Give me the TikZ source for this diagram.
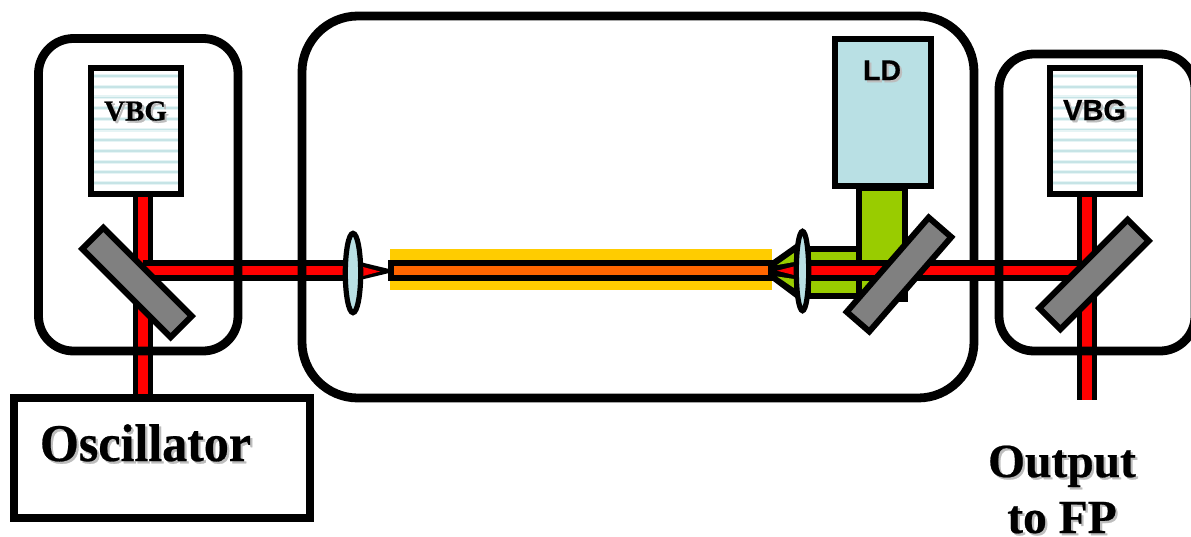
\documentclass[tikz,border=0pt]{standalone}
\usepackage{fontspec}
\setmainfont{Liberation Serif}[BoldFeatures={FakeBold=0.5}]
\newfontfamily\arialfont{Liberation Sans}[BoldFeatures={FakeBold=0.5}]
\definecolor{beamred}{HTML}{FF0000}
\definecolor{pumpgreen}{HTML}{99CC00}
\definecolor{mirrorgray}{HTML}{808080}
\definecolor{glassblue}{HTML}{B9E0E4}
\definecolor{fiberyellow}{HTML}{FFCC00}
\definecolor{coreorange}{HTML}{FF6600}
\definecolor{stripesoft}{HTML}{E6F4F5}
\definecolor{stripe}{HTML}{C6E4E6}
\definecolor{shadowgray}{HTML}{BDBDBD}
\newcommand{\shad}[1]{\leavevmode\rlap{\kern2.2pt\raisebox{-2.2pt}{\textcolor{shadowgray}{#1}}}#1}
\newcommand{\beamseg}[2]{%
  \draw[black,line width=20.5pt] #1 -- #2;
  \draw[beamred,line width=9.8pt] #1 -- #2;}
\newcommand{\vbgbox}[3]{%
  \fill[white] (#2,68) rectangle (#3,194);
  \foreach \yy in {76,86.7,97.4,108.1,118.8,129.5,140.2,150.9,161.6,172.3,183} {
    \draw[stripesoft,line width=4pt] (#2,\yy) -- (#3,\yy);
    \draw[stripe,line width=1.8pt] (#2,\yy) -- (#3,\yy);
  }
  \draw[outline5] (#2,68) rectangle (#3,194);
  \coordinate (#1) at (#2,68);}
\tikzset{
  outline5/.style={draw=black,line width=6pt,line join=miter},
  housing/.style={draw=black,line width=8.8pt},
  mirrorplate/.style={draw=black,fill=mirrorgray,line width=6pt,line join=miter},
  lensbody/.style={draw=black,fill=glassblue,line width=5.2pt},
  serifbold/.style={font=\fontsize{#1}{#1}\selectfont\bfseries,inner sep=0pt,anchor=base},
  sansbold/.style={font=\fontsize{#1}{#1}\selectfont\arialfont\bfseries,inner sep=0pt,anchor=base},
}
\begin{document}
\begin{tikzpicture}[x=1pt,y=-1pt]
\useasboundingbox (0,0) rectangle (1191,536);
\fill[white] (0,0) rectangle (1191,536);

% fibre jacket
\fill[fiberyellow] (390,249) rectangle (771.5,289.5);

% left-hand beams, beneath the housings
\beamseg{(143,197)}{(143,396)}
\beamseg{(143,270.5)}{(345,270.5)}
\beamseg{(1087,197)}{(1087,400)}

% big housing
\draw[housing,rounded corners=56pt] (302,16) rectangle (974,398);

% pump light
\draw[outline5,fill=pumpgreen] (808,248.7) rectangle (859,295.7);
\draw[outline5,fill=pumpgreen] (858.7,188) rectangle (904.5,299);
\beamseg{(808,270.5)}{(1080,270.5)}

% small housings
\draw[housing,rounded corners=35pt] (38.5,38.5) rectangle (238,351);
\draw[housing,rounded corners=35pt] (999,54) rectangle (1195,351);

% fibre core
\draw[line width=6pt,fill=coreorange] (391,263) rectangle (771,278.3);

% focusing cones
\fill[black] (360,262) -- (389,269) -- (389,273) -- (360,280) -- cycle;
\fill[beamred] (363,267) -- (380,271.5) -- (363,276) -- cycle;
\fill[black] (773,260) -- (797,243) -- (797,299) -- (773,281) -- cycle;
\fill[pumpgreen] (777,265) -- (794,253) -- (794,262) -- cycle;
\fill[beamred] (777,270.7) -- (794,266.5) -- (794,275) -- cycle;
\fill[pumpgreen] (777,276.5) -- (794,279) -- (794,288) -- cycle;

% lenses
\draw[lensbody] (353,273) ellipse [x radius=7.7,y radius=39.7];
\draw[lensbody] (802.5,271) ellipse [x radius=6.2,y radius=39.7];

% mirrors
\draw[mirrorplate] (191.8,316.1) -- (170.6,337.3) -- (82.2,248.9) -- (103.4,227.7) -- cycle;
\draw[mirrorplate] (951.3,237.1) -- (928.7,217.5) -- (846.7,311.9) -- (869.3,331.5) -- cycle;
\draw[mirrorplate] (1148.8,240.9) -- (1127.6,219.7) -- (1039.2,308.1) -- (1060.4,329.3) -- cycle;

% gratings and diode
\vbgbox{vbgL}{91}{181}
\vbgbox{vbgR}{1050}{1140}
\draw[outline5,fill=glassblue] (834.7,38.7) rectangle (930.5,185.5);

% oscillator
\draw[housing,fill=white] (14,398) rectangle (310,518);

% labels
\node[serifbold=29] (vbgLtext) at (135.5,120.5) {\shad{VBG}};
\node[sansbold=29] (vbgRtext) at (1094.5,120) {\shad{VBG}};
\node[sansbold=28.5] (ldtext) at (882,80) {\shad{LD}};
\node[serifbold=50,transform shape,yscale=1.06] (osctext) at (145.5,461) {\shad{Oscillator}};
\node[serifbold=47.5] (outtext) at (1062,477) {\shad{Output}};
\node[serifbold=47.5] (fptext) at (1062,533) {\shad{to FP}};
\end{tikzpicture}
\end{document}
